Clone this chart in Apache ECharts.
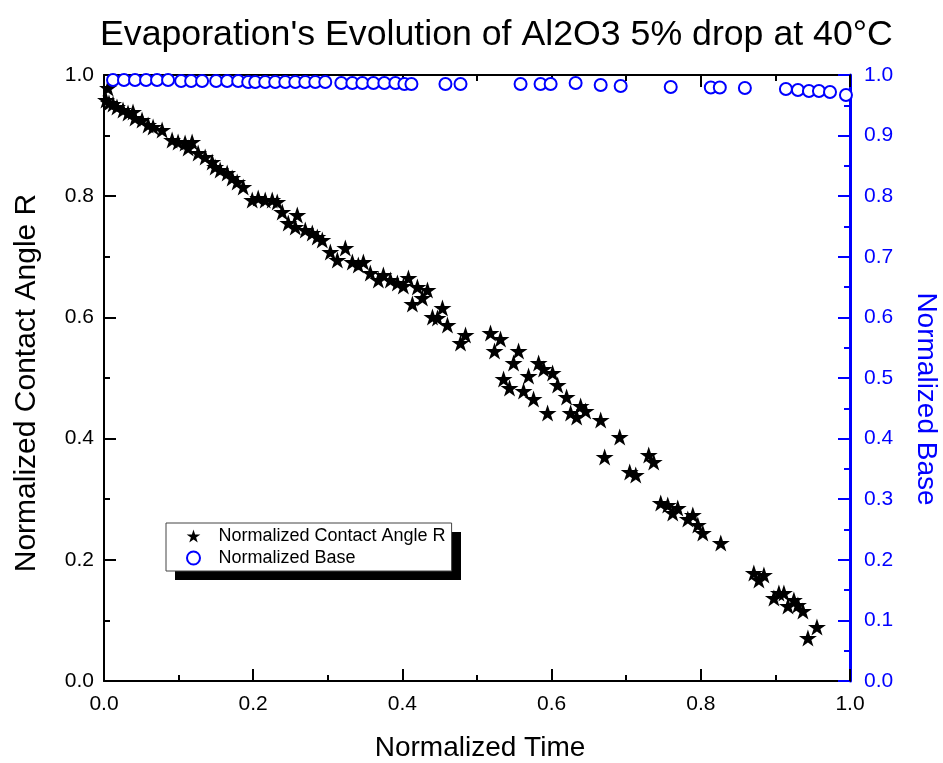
<!DOCTYPE html>
<html>
<head>
<meta charset="utf-8">
<script src="https://cdn.jsdelivr.net/npm/echarts@6/dist/echarts.min.js"></script>
<style>
  html, body { margin: 0; padding: 0; background: #ffffff; }
  #chart { width: 943px; height: 763px; }
</style>
</head>
<body>
<div id="chart"></div>
<script>
// Normalized contact angle (stars) versus normalized time
const angleTime = [
  0.0054, 0.0027, 0.0067, 0.0121, 0.0174, 0.0255, 0.0322, 0.0389, 0.0416, 0.0510,
  0.0591, 0.0658, 0.0779, 0.0913, 0.0993, 0.1087, 0.1181, 0.1128, 0.1262, 0.1356,
  0.1450, 0.1490, 0.1557, 0.1651, 0.1718, 0.1785, 0.1866, 0.1987, 0.2067, 0.2161,
  0.2255, 0.2322, 0.2389, 0.2470, 0.2564, 0.2591, 0.2698, 0.2792, 0.2859, 0.2926,
  0.3034, 0.3128, 0.3235, 0.3329, 0.3409, 0.3477, 0.3570, 0.3678, 0.3745, 0.3839,
  0.3933, 0.4013, 0.4081, 0.4201, 0.4336, 0.4268, 0.4134, 0.4537, 0.4403, 0.4470,
  0.4604, 0.4846, 0.4779, 0.5181, 0.5315, 0.5235, 0.5557, 0.5490, 0.5356, 0.5436,
  0.5691, 0.5624, 0.5758, 0.5826, 0.5893, 0.6013, 0.6081, 0.5946, 0.6201, 0.6389,
  0.6456, 0.6255, 0.6336, 0.6658, 0.6913, 0.6711, 0.7302, 0.7369, 0.7047, 0.7128,
  0.7463, 0.7557, 0.7691, 0.7624, 0.7826, 0.7893, 0.7960, 0.8027, 0.8268, 0.8711,
  0.8846, 0.8779, 0.8980, 0.9047, 0.9114, 0.9168, 0.9248, 0.9302, 0.9369, 0.9557,
  0.9436
];
const angleValue = [
  0.9785, 0.9587, 0.9538, 0.9521, 0.9472, 0.9422, 0.9373, 0.9389, 0.9290, 0.9257,
  0.9175, 0.9142, 0.9092, 0.8927, 0.8894, 0.8878, 0.8894, 0.8795, 0.8713, 0.8647,
  0.8564, 0.8482, 0.8432, 0.8383, 0.8300, 0.8234, 0.8152, 0.7937, 0.7970, 0.7937,
  0.7937, 0.7904, 0.7739, 0.7558, 0.7492, 0.7690, 0.7442, 0.7393, 0.7327, 0.7277,
  0.7079, 0.6947, 0.7145, 0.6914, 0.6865, 0.6914, 0.6733, 0.6617, 0.6700, 0.6617,
  0.6568, 0.6518, 0.6650, 0.6502, 0.6452, 0.6320, 0.6221, 0.6155, 0.6007, 0.5990,
  0.5875, 0.5710, 0.5578, 0.5743, 0.5644, 0.5446, 0.5446, 0.5248, 0.4983, 0.4835,
  0.5033, 0.4785, 0.4653, 0.5248, 0.5149, 0.5083, 0.4884, 0.4422, 0.4686, 0.4538,
  0.4455, 0.4422, 0.4356, 0.4307, 0.4026, 0.3696, 0.3729, 0.3614, 0.3449, 0.3399,
  0.2937, 0.2904, 0.2855, 0.2772, 0.2673, 0.2739, 0.2574, 0.2442, 0.2277, 0.1782,
  0.1749, 0.1667, 0.1370, 0.1452, 0.1452, 0.1238, 0.1337, 0.1254, 0.1155, 0.0891,
  0.0710
];

// Normalized base (open circles) versus normalized time
const baseTime = [
  0.0121, 0.0268, 0.0416, 0.0564, 0.0711, 0.0859, 0.1034, 0.1168, 0.1315, 0.1503,
  0.1651, 0.1799, 0.1933, 0.2027, 0.2161, 0.2295, 0.2430, 0.2564, 0.2698, 0.2832,
  0.2966, 0.3181, 0.3329, 0.3463, 0.3611, 0.3758, 0.3906, 0.4027, 0.4121, 0.4577,
  0.4779, 0.5584, 0.5852, 0.5987, 0.6322, 0.6658, 0.6926, 0.7597, 0.8134, 0.8255,
  0.8591, 0.9141, 0.9302, 0.9450, 0.9584, 0.9732, 0.9946
];
const baseValue = [
  0.9917, 0.9917, 0.9917, 0.9917, 0.9917, 0.9917, 0.9901, 0.9901, 0.9901, 0.9901,
  0.9901, 0.9901, 0.9884, 0.9884, 0.9884, 0.9884, 0.9884, 0.9884, 0.9884, 0.9884,
  0.9884, 0.9868, 0.9868, 0.9868, 0.9868, 0.9868, 0.9868, 0.9851, 0.9851, 0.9851,
  0.9851, 0.9851, 0.9851, 0.9851, 0.9868, 0.9835, 0.9818, 0.9802, 0.9794, 0.9794,
  0.9785, 0.9769, 0.9752, 0.9736, 0.9736, 0.9719, 0.9670
];

const seriesNames = ['Normalized Contact Angle R', 'Normalized Base'];
const titleText = "Evaporation's Evolution of Al2O3 5% drop at 40\u00B0C";
const xName = 'Normalized Time';
const yLeftName = 'Normalized Contact Angle R';
const yRightName = 'Normalized Base';

const FONT = '"Liberation Sans", Arial, Helvetica, sans-serif';
const BLUE = '#0000ff';
const STAR = 'path://M0,-10 L2.245,-3.09 L9.511,-3.09 L3.633,1.18 L5.878,8.09 L0,3.82 L-5.878,8.09 L-3.633,1.18 L-9.511,-3.09 L-2.245,-3.09 Z';

const pair = (xs, ys) => xs.map((x, i) => [x, ys[i]]);
const fmt1 = v => v.toFixed(1);

function axisCommon(color, lineWidth) {
  return {
    min: 0, max: 1,
    axisLine: { show: true, onZero: false, lineStyle: { color: color, width: lineWidth } },
    axisTick: { show: true, inside: true, length: 12, lineStyle: { color: color, width: 2 } },
    minorTick: { show: true, splitNumber: 2, length: 6, lineStyle: { color: color, width: 2 } },
    splitLine: { show: false },
    minorSplitLine: { show: false }
  };
}

const chart = echarts.init(document.getElementById('chart'), null, { renderer: 'canvas' });

chart.setOption({
  backgroundColor: '#ffffff',
  animation: false,
  title: {
    text: titleText,
    left: 95,
    top: 12,
    textStyle: { fontFamily: FONT, fontSize: 35.7, fontWeight: 'normal', color: '#000' }
  },
  grid: { left: 104, right: 93, top: 75, bottom: 82, containLabel: false, outerBoundsMode: 'none' },
  // drop shadow behind the legend box
  graphic: [{
    type: 'rect',
    left: 175, top: 532,
    shape: { width: 286, height: 48 },
    style: { fill: '#000' },
    z: 1
  }],
  legend: {
    orient: 'vertical',
    left: 166,
    top: 523,
    z: 10,
    padding: [3, 6, 3, 20],
    itemGap: 2,
    itemWidth: 40,
    itemHeight: 13,
    backgroundColor: '#ffffff',
    borderColor: '#444',
    borderWidth: 1,
    textStyle: { fontFamily: FONT, fontSize: 18, color: '#000', lineHeight: 20 },
    data: [
      { name: seriesNames[0], icon: STAR, itemStyle: { color: '#000', opacity: 1 } },
      { name: seriesNames[1], icon: 'emptyCircle', itemStyle: { color: BLUE, borderColor: BLUE, borderWidth: 1.2, opacity: 1 } }
    ]
  },
  xAxis: [
    Object.assign(axisCommon('#000', 2), {
      type: 'value', position: 'bottom', interval: 0.2,
      name: xName, nameLocation: 'middle', nameGap: 53,
      nameTextStyle: { fontFamily: FONT, fontSize: 28, color: '#000', padding: [0, 0, 0, 6] },
      axisLabel: { show: true, margin: 13, formatter: fmt1, fontFamily: FONT, fontSize: 21, color: '#000' }
    }),
    Object.assign(axisCommon('#000', 2), {
      type: 'value', position: 'top', interval: 0.2,
      axisLabel: { show: false }
    })
  ],
  yAxis: [
    Object.assign(axisCommon('#000', 2), {
      type: 'value', position: 'left', interval: 0.2,
      name: yLeftName, nameLocation: 'middle', nameGap: 62,
      nameTextStyle: { fontFamily: FONT, fontSize: 30, color: '#000', padding: [0, 10, 0, 0] },
      axisLabel: { show: true, margin: 10, formatter: fmt1, fontFamily: FONT, fontSize: 21, color: '#000' }
    }),
    Object.assign(axisCommon(BLUE, 3), {
      type: 'value', position: 'right', interval: 0.1,
      name: yRightName, nameLocation: 'middle', nameGap: 62, nameRotate: -90,
      nameTextStyle: { fontFamily: FONT, fontSize: 28, color: BLUE, padding: [0, 0, 0, 42] },
      axisLabel: { show: true, margin: 14, formatter: fmt1, fontFamily: FONT, fontSize: 21, color: BLUE }
    })
  ],
  series: [
    {
      name: seriesNames[0],
      type: 'scatter',
      xAxisIndex: 0, yAxisIndex: 0,
      symbol: STAR,
      symbolSize: 18,
      symbolKeepAspect: true,
      itemStyle: { color: '#000', opacity: 1 },
      data: pair(angleTime, angleValue),
      z: 3
    },
    {
      name: seriesNames[1],
      type: 'scatter',
      xAxisIndex: 0, yAxisIndex: 1,
      symbol: 'emptyCircle',
      symbolSize: 12,
      itemStyle: { color: BLUE, borderColor: BLUE, borderWidth: 1.2, opacity: 1 },
      data: pair(baseTime, baseValue),
      z: 4
    }
  ]
});
</script>
</body>
</html>
